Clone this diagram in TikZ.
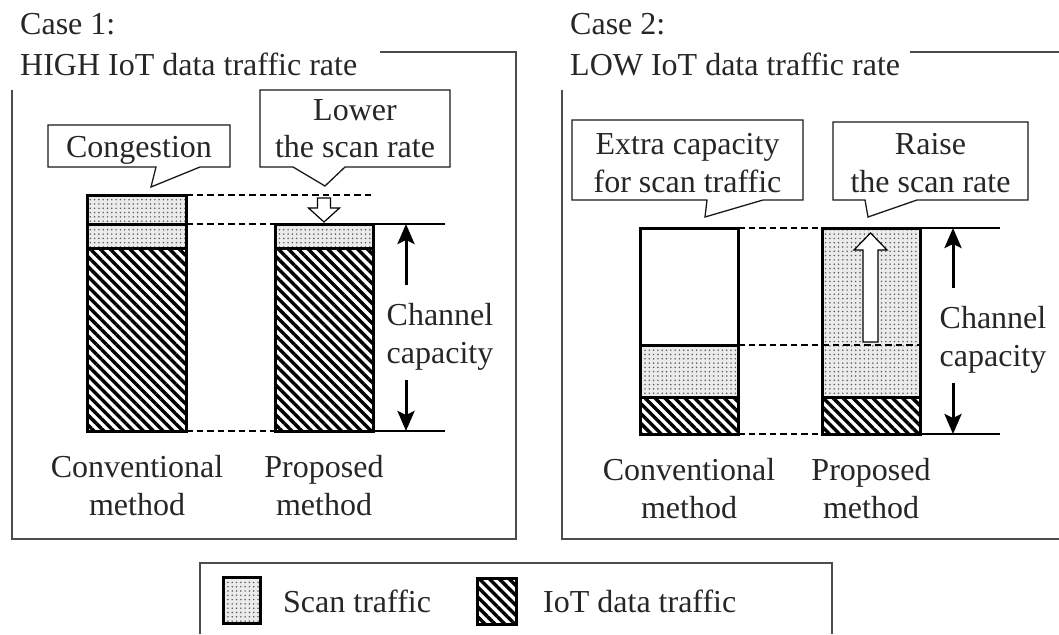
\documentclass[tikz,border=0pt]{standalone}
\usepackage{fontspec}
\setmainfont{Liberation Serif}
\usetikzlibrary{patterns.meta,arrows.meta}
\begin{document}
\begin{tikzpicture}[x=1pt,y=-1pt,
  font=\fontsize{32}{38}\selectfont,
  every node/.style={text=black!85, inner sep=0pt},
  txt/.style={anchor=base},
  frame/.style={draw=black!70, line width=1.5pt},
  callout/.style={draw=black!90, line width=1.3pt, fill=white, line join=miter},
  scan/.style={preaction={fill=black!8}, pattern={Dots[radius=0.85pt,distance=4.3pt]}, pattern color=black!65},
  iot/.style={pattern={Lines[angle=-45,distance=7pt,line width=3.4pt]}, pattern color=black},
  barline/.style={draw=black, line width=3pt, line join=miter},
  guide/.style={draw=black, line width=2.4pt, dash pattern=on 6.5pt off 4pt},
  thinline/.style={draw=black, line width=1.2pt},
  caparrow/.style={draw=black, line width=3pt, -{Stealth[length=20pt,width=17pt,inset=4pt]}},
  hollow/.style={draw=black, line width=1.2pt, fill=white, line join=miter}]
\useasboundingbox (0,0) rectangle (1059,634);

% ---------- frames ----------
\draw[frame] (380,52) -- (516,52) -- (516,539) -- (12,539) -- (12,90);
\draw[frame] (910,52) -- (1059,52);
\draw[frame] (562,90) -- (562,539) -- (1059,539);
\draw[frame] (200,634) -- (200,563) -- (832,563) -- (832,634);

% ---------- titles ----------
\node[txt, anchor=base west] (t1a) at (20,35) {Case 1:};
\node[txt, anchor=base west] (t1b) at (20,75) {HIGH IoT data traffic rate};
\node[txt, anchor=base west] (t2a) at (570,35) {Case 2:};
\node[txt, anchor=base west] (t2b) at (570,75) {LOW IoT data traffic rate};

% ---------- named coordinates ----------
\coordinate (c1top) at (186,195);
\coordinate (c1mid) at (186,224);
\coordinate (c1bot) at (186,431);
\coordinate (p1topl) at (275,224);
\coordinate (p1botl) at (275,431);
\coordinate (p1topr) at (373,224);
\coordinate (p1botr) at (373,431);
\coordinate (g1top) at (372,195);
\coordinate (e1top) at (445,224);
\coordinate (e1bot) at (445,431);
\coordinate (a1up) at (406,285);
\coordinate (a1upt) at (406,224);
\coordinate (a1dn) at (406,380);
\coordinate (a1dnt) at (406,431);

\coordinate (c2top) at (738,228);
\coordinate (c2mid) at (738,345);
\coordinate (c2bot) at (738,434);
\coordinate (p2topl) at (822,228);
\coordinate (p2botl) at (822,434);
\coordinate (p2midr) at (920,345);
\coordinate (p2topr) at (920,228);
\coordinate (p2botr) at (920,434);
\coordinate (e2top) at (1000,228);
\coordinate (e2bot) at (1000,434);
\coordinate (a2up) at (953,288);
\coordinate (a2upt) at (953,228);
\coordinate (a2dn) at (953,383);
\coordinate (a2dnt) at (953,434);

% ---------- case 1 bars ----------
\fill[scan] (87,195) rectangle (186,248);
\fill[iot] (87,248) rectangle (186,431);
\draw[barline] (87,195) rectangle (186,431);
\draw[barline] (87,224) -- (186,224);
\draw[barline] (87,248) -- (186,248);

\fill[scan] (275,224) rectangle (373,248);
\fill[iot] (275,248) rectangle (373,431);
\draw[barline] (275,224) rectangle (373,431);
\draw[barline] (275,248) -- (373,248);

\draw[guide] (c1top) -- (g1top);
\draw[guide] (c1mid) -- (p1topl);
\draw[guide] (c1bot) -- (p1botl);
\draw[thinline] (p1topr) -- (e1top);
\draw[thinline] (p1botr) -- (e1bot);
\draw[caparrow] (a1up) -- (a1upt);
\draw[caparrow] (a1dn) -- (a1dnt);

% hollow down arrow
\draw[hollow] (317.5,198) -- (330.5,198) -- (330.5,208) -- (339.5,208) -- (324,222)
  -- (308.5,208) -- (317.5,208) -- cycle;

% ---------- case 2 bars ----------
\fill[scan] (640,345) rectangle (738,397);
\fill[iot] (640,397) rectangle (738,434);
\draw[barline] (640,228) rectangle (738,434);
\draw[barline] (640,345) -- (738,345);
\draw[barline] (640,397) -- (738,397);

\fill[scan] (822,228) rectangle (920,397);
\fill[iot] (822,397) rectangle (920,434);
\draw[barline] (822,228) rectangle (920,434);
\draw[barline] (822,397) -- (920,397);

\draw[guide] (c2top) -- (p2topl);
\draw[guide] (c2mid) -- (p2midr);
\draw[guide] (c2bot) -- (p2botl);
\draw[thinline] (p2topr) -- (e2top);
\draw[thinline] (p2botr) -- (e2bot);
\draw[caparrow] (a2up) -- (a2upt);
\draw[caparrow] (a2dn) -- (a2dnt);

% hollow up arrow
\draw[hollow] (863,342) -- (878,342) -- (878,250) -- (887,250) -- (870.5,233)
  -- (854,250) -- (863,250) -- cycle;

% ---------- callouts ----------
\draw[callout] (48,125) -- (230,125) -- (230,167) -- (200,167) -- (151,187)
  -- (156,167) -- (48,167) -- cycle;
\node[txt] (cong) at (139,157) {Congestion};

\draw[callout] (260,90) -- (450,90) -- (450,167) -- (345,167) -- (325,186)
  -- (293,167) -- (260,167) -- cycle;
\node[txt] (lowa) at (355,120) {Lower};
\node[txt] (lowb) at (355,157) {the scan rate};

\draw[callout] (572,120) -- (803,120) -- (803,200) -- (763,200) -- (705,217)
  -- (707,200) -- (572,200) -- cycle;
\node[txt] (exa) at (687.5,154) {Extra capacity};
\node[txt] (exb) at (687.5,192) {for scan traffic};

\draw[callout] (833,122) -- (1028,122) -- (1028,200) -- (917,200) -- (868,217)
  -- (865,200) -- (833,200) -- cycle;
\node[txt] (raa) at (930.5,154) {Raise};
\node[txt] (rab) at (930.5,192) {the scan rate};

% ---------- channel capacity labels ----------
\node[txt] (ch1a) at (440,325) {Channel};
\node[txt] (ch1b) at (440,363) {capacity};
\node[txt] (ch2a) at (993,328) {Channel};
\node[txt] (ch2b) at (993,366) {capacity};

% ---------- method labels ----------
\node[txt] (m1a) at (137,477) {Conventional};
\node[txt] (m1b) at (137,515) {method};
\node[txt] (m2a) at (324,477) {Proposed};
\node[txt] (m2b) at (324,515) {method};
\node[txt] (m3a) at (689,480) {Conventional};
\node[txt] (m3b) at (689,518) {method};
\node[txt] (m4a) at (871,480) {Proposed};
\node[txt] (m4b) at (871,518) {method};

% ---------- legend ----------
\fill[scan] (223,577) rectangle (260,623);
\draw[barline] (223,577) rectangle (260,623);
\fill[iot] (477,578) rectangle (516,624);
\draw[barline] (477,578) rectangle (516,624);
\node[txt, anchor=base west] (lgs) at (283,612) {Scan traffic};
\node[txt, anchor=base west] (lgi) at (543,612) {IoT data traffic};
\end{tikzpicture}
\end{document}
